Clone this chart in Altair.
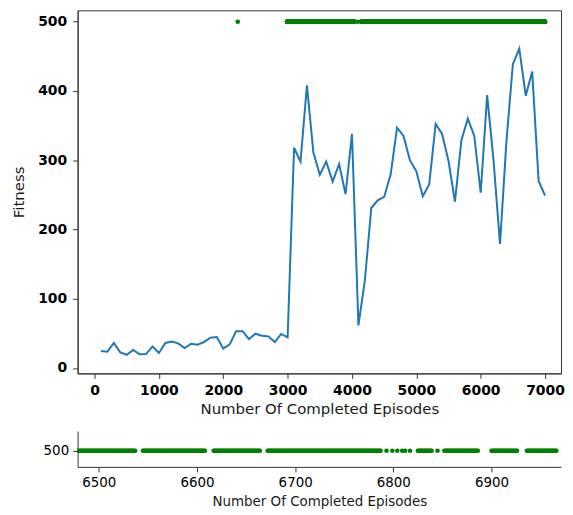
import altair as alt
import pandas as pd

# ---- data ----
episodes = [100, 200, 300, 400, 500, 600, 700, 800, 900, 1000,
            1100, 1200, 1300, 1400, 1500, 1600, 1700, 1800, 1900, 2000,
            2100, 2200, 2300, 2400, 2500, 2600, 2700, 2800, 2900, 3000,
            3100, 3200, 3300, 3400, 3500, 3600, 3700, 3800, 3900, 4000,
            4100, 4200, 4300, 4400, 4500, 4600, 4700, 4800, 4900, 5000,
            5100, 5200, 5300, 5400, 5500, 5600, 5700, 5800, 5900, 6000,
            6100, 6200, 6300, 6400, 6500, 6600, 6700, 6800, 6900, 7000]
fitness = [24.5, 23.5, 36, 22.5, 19, 26, 19.7, 20, 31, 21.6,
           36, 38, 35.5, 28.8, 35, 33.6, 37.4, 43.6, 44.6, 27.8,
           34, 53, 53, 41.7, 49.4, 46.5, 45.6, 37.4, 49, 44,
           318, 298, 408, 311, 279, 298, 269, 294.5, 251, 338,
           61.4, 126, 231, 242, 247, 279, 347, 335, 300, 284,
           248, 265, 352.5, 338, 299, 240, 329, 360, 335, 253,
           394, 299, 179, 327.6, 439, 461, 393, 428, 270, 249]

# runs of consecutive episodes that reached the maximum fitness (500)
run_start = [2990, 4150, 6265, 6545, 6617, 6672, 6825, 6852, 6900, 6936, 6974]
run_end = [4040, 6255, 6537, 6608, 6664, 6787, 6839, 6886, 6926, 6966, 7000]
single_episodes = [2225, 4095, 6793, 6799, 6804, 6809, 6812, 6817, 6845]
max_fitness = 500

top_x_ticks = [0, 1000, 2000, 3000, 4000, 5000, 6000, 7000]
top_y_ticks = [0, 100, 200, 300, 400, 500]
bottom_x_ticks = [6500, 6600, 6700, 6800, 6900]

# ---- tables ----
line_df = pd.DataFrame({"episode": episodes, "fitness": fitness})
succ = set(single_episodes)
for s, t in zip(run_start, run_end):
    succ.update(range(s, t + 1))
succ = sorted(succ)
pts_df = pd.DataFrame({"episode": succ, "fitness": [max_fitness] * len(succ)})

FONT = "DejaVu Sans"
BLUE = "#1f77b4"
GREEN = "#008000"
W = 486

# ---- top panel ----
x_top = alt.X("episode:Q",
              scale=alt.Scale(domain=[-263, 7248], nice=False, zero=False),
              axis=alt.Axis(values=top_x_ticks, format="d", grid=False,
                            title="Number Of Completed Episodes",
                            labelFontWeight="bold", labelFontSize=14,
                            titleFontSize=15, titleFontWeight="normal",
                            tickSize=5, labelPadding=5, titlePadding=4))
y_top = alt.Y("fitness:Q",
              scale=alt.Scale(domain=[-7.9, 516.5], nice=False, zero=False),
              axis=alt.Axis(values=top_y_ticks, format="d", grid=False,
                            title="Fitness",
                            labelFontWeight="bold", labelFontSize=14,
                            titleFontSize=15, titleFontWeight="normal",
                            tickSize=5, labelPadding=6, titlePadding=11))

line = alt.Chart(line_df).mark_line(color=BLUE, strokeWidth=2).encode(x=x_top, y=y_top)
pts_top = alt.Chart(pts_df).mark_circle(color=GREEN, size=22, opacity=1).encode(x=x_top, y=y_top)

top = alt.layer(line, pts_top).properties(
    width=W, height=365,
    view=alt.ViewBackground(stroke="#333333", strokeWidth=1))

# ---- bottom (zoomed) panel ----
x_bot = alt.X("episode:Q",
              scale=alt.Scale(domain=[6478.4, 6970.8], nice=False, zero=False),
              axis=alt.Axis(values=bottom_x_ticks, format="d", grid=False,
                            title="Number Of Completed Episodes",
                            labelFontSize=13.5, titleFontSize=13.5,
                            titleFontWeight="normal",
                            tickSize=5, labelPadding=4, titlePadding=5))
y_bot = alt.Y("fitness:Q",
              scale=alt.Scale(domain=[495.5, 505.5], nice=False, zero=False),
              axis=alt.Axis(values=[500], format="d", grid=False, title=None,
                            labelFontSize=13.5, tickSize=5, labelPadding=4))

bottom = alt.Chart(pts_df).mark_circle(color=GREEN, size=22, opacity=1, clip=True).encode(
    x=x_bot, y=y_bot
).properties(width=W, height=36,
             view=alt.ViewBackground(stroke="transparent"))

chart = alt.vconcat(top, bottom, spacing=13).properties(
    padding={"left": 3, "top": 0, "right": 0, "bottom": 0}
).configure_axis(
    labelFont=FONT, titleFont=FONT, labelColor="#000000", titleColor="#1a1a1a",
    domainColor="#333333", tickColor="#333333"
)

chart.save("out.html", embed_options={"renderer": "svg", "actions": False})
